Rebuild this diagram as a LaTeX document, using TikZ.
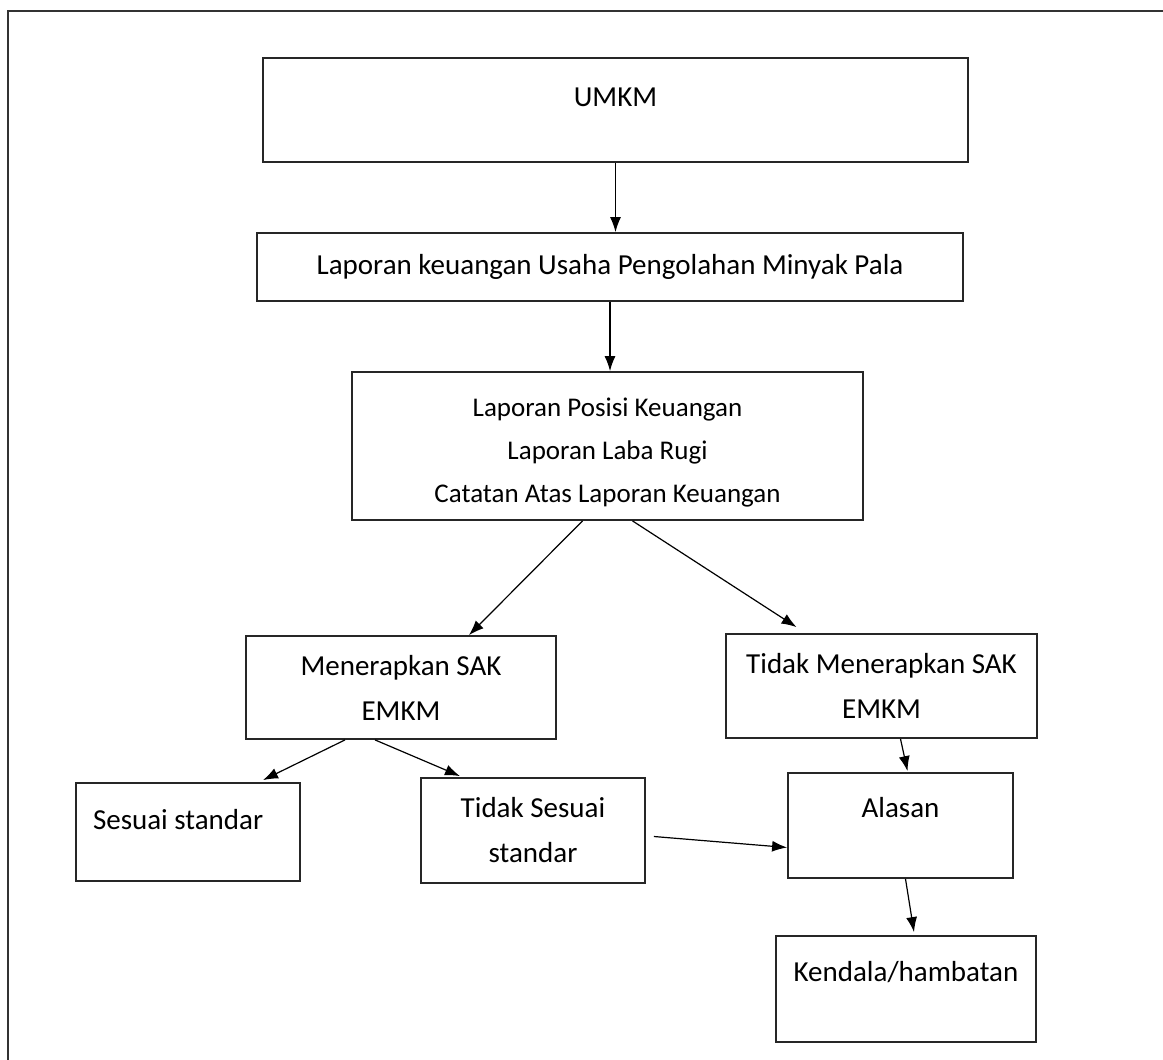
\documentclass[tikz,border=0pt]{standalone}
\usepackage{fontspec}
\setmainfont{Carlito}
\usetikzlibrary{arrows.meta,calc}
\tikzset{
	box/.style={
			draw=black!85, line width=0.9pt, rectangle, inner sep=0pt,
			align=center, font=\fontsize{14.5}{22.5}\selectfont
		},
	lifted/.style={text height=9.5pt, text depth=#1},
	flow/.style={-{Latex[length=7.5pt, width=5.5pt]}, line width=0.6pt, black}
}

\begin{document}
\begin{tikzpicture}[x=0.5pt, y=-0.5pt]
		\useasboundingbox (0, 0) rectangle (1163, 1060);
		% outer frame, cut off right and bottom
		\draw[black!80, line width=0.8pt]	(8, 1060) to (8, 11) to (1163, 11);

		\node[box, lifted=13pt, minimum width=352.5pt, minimum height=52pt] (umkm) at (615.5, 110) {UMKM};
		\node[box, minimum width=353pt, minimum height=34pt] (lapkeu) at (610, 267) {Laporan keuangan Usaha Pengolahan Minyak Pala};
		\node[box, minimum width=255.5pt, minimum height=74pt, font=\fontsize{13.5}{21.5}\selectfont] (jenis) at (607.5, 446)
			{\rule{0pt}{16pt}Laporan Posisi Keuangan\\Laporan Laba Rugi\\Catatan Atas Laporan Keuangan};

		\node[box, minimum width=155pt, minimum height=51.5pt] (terap) at (401, 687.5) {Menerapkan SAK\\EMKM};
		\node[box, minimum width=155.5pt, minimum height=52pt] (tdkterap) at (881.5, 686) {Tidak Menerapkan SAK\\EMKM};

		\node[box, lifted=12pt, minimum width=112pt, minimum height=49pt, align=flush left, text width=95pt, inner xsep=8.5pt] (sesuai) at (188, 832) {Sesuai standar};
		\node[box, minimum width=112pt, minimum height=52.5pt] (tdksesuai) at (533, 830.5) {Tidak Sesuai\\standar};
		\node[box, lifted=18pt, minimum width=112.5pt, minimum height=52.5pt] (alasan) at (900.5, 825.5) {Alasan};
		\node[box, lifted=17pt, minimum width=130pt, minimum height=53pt] (kendala) at (906, 989) {Kendala/hambatan};

		\draw[flow]	(umkm.south) to (umkm.south |- lapkeu.north);
		\draw[flow]	(lapkeu.south) to (lapkeu.south |- jenis.north);

		\draw[flow]	([xshift=-12.5pt]jenis.south) to ([xshift=34pt]terap.north);
		\draw[flow]	([xshift=12.5pt]jenis.south) to ([xshift=-42.5pt, yshift=3pt]tdkterap.north);

		\draw[flow]	([xshift=-28pt]terap.south) to ([xshift=37.5pt, yshift=1pt]sesuai.north);
		\draw[flow]	([xshift=-13pt]terap.south) to ([xshift=-36.5pt, yshift=0.5pt]tdksesuai.north);
		\draw[flow]	([xshift=9.5pt]tdkterap.south) to ([xshift=3.5pt, yshift=0.5pt]alasan.north);

		\draw[flow]	([xshift=4pt, yshift=-3pt]tdksesuai.east) to ([yshift=-11pt]alasan.west);
		\draw[flow]	([xshift=2.5pt]alasan.south) to ([xshift=4pt, yshift=1.5pt]kendala.north);
\end{tikzpicture}
\end{document}
